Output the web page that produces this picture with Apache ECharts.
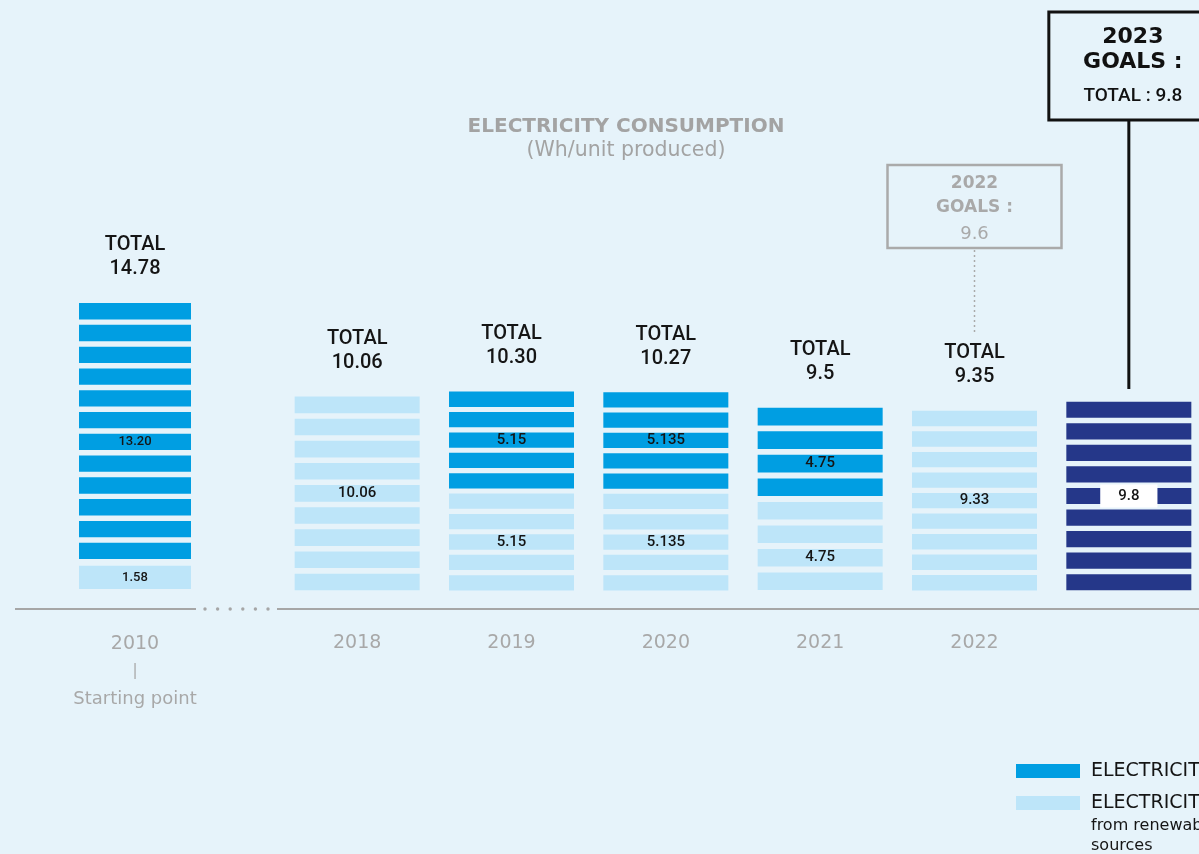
<!DOCTYPE html>
<html>
<head>
<meta charset="utf-8">
<script src="https://cdn.jsdelivr.net/npm/echarts@6/dist/echarts.min.js"></script>
<style>
  html, body { margin: 0; padding: 0; background: #e6f3fa; }
  #chart { width: 1199px; height: 854px; }
</style>
</head>
<body>
<div id="chart"></div>
<script>
// Electricity consumption, Wh per unit produced
const years = ['2010', '2018', '2019', '2020', '2021', '2022'];
// Values exactly as printed on the bars
const renewable    = ['1.58', '10.06', '5.15', '5.135', '4.75', '9.33'];
const nonRenewable = ['13.20', '0', '5.15', '5.135', '4.75', '0.02'];
const totals       = ['14.78', '10.06', '10.30', '10.27', '9.5', '9.35'];
const goalYear = '2023';
const goalTotal = '9.8';
const goal2022 = '9.6';

const COL_NON = '#009ee2';
const COL_REN = '#bde5f9';
const COL_GOAL = '#253789';
const INK = '#151515';
const GREY = '#a6a6a6';
const NUM_FONT = 'Roboto';
const HEAD_FONT = 'DejaVu Sans';

const STRIPE_UNIT = 1.08;   // value represented by one stripe
const STRIPE_FILL = 0.75;   // share of each slot that is painted

const ren = renewable.map(Number);
const non = nonRenewable.map(Number);

// Striped segment from value lo to value hi, its value written on the middle stripe
function stripedSegment(color, barWidth, texts, fontSize, boxed) {
  return function (params, api) {
    const cat = api.value(0), lo = api.value(1), hi = api.value(2);
    const n = Math.round((hi - lo) / STRIPE_UNIT);
    if (n < 1) return { type: 'group', children: [] };
    const pBot = api.coord([cat, lo]);
    const pTop = api.coord([cat, hi]);
    const pitch = (pBot[1] - pTop[1]) / n;
    const sh = pitch * STRIPE_FILL;
    const x = pBot[0] - barWidth / 2;
    const children = [];
    for (let i = 0; i < n; i++) {
      children.push({
        type: 'rect',
        shape: { x: x, y: pTop[1] + i * pitch + (pitch - sh) / 2, width: barWidth, height: sh },
        style: { fill: color }
      });
    }
    const txt = texts[params.dataIndex];
    if (txt) {
      const mid = Math.floor(n / 2);
      const style = {
        text: txt, x: pBot[0], y: pTop[1] + (mid + 0.5) * pitch,
        align: 'center', verticalAlign: 'middle',
        fontFamily: NUM_FONT, fontWeight: 500, fontSize: fontSize, fill: INK
      };
      if (boxed) { style.backgroundColor = '#ffffff'; style.padding = [4, 18]; }
      children.push({ type: 'text', style: style });
    }
    return { type: 'group', children: children };
  };
}

// "TOTAL" label sitting above each bar
function totalLabel(texts) {
  return function (params, api) {
    const p = api.coord([api.value(0), api.value(1)]);
    return {
      type: 'text',
      style: {
        text: 'TOTAL\n' + texts[params.dataIndex], x: p[0], y: p[1] - 19,
        align: 'center', verticalAlign: 'bottom', lineHeight: 24,
        fontFamily: NUM_FONT, fontWeight: 500, fontSize: 20, fill: INK
      }
    };
  };
}

// 2022 goal callout with a dotted leader down to the total label
function goal2022Callout(params, api) {
  const p = api.coord([api.value(0), api.value(1)]);
  const cx = p[0];
  return {
    type: 'group',
    children: [
      { type: 'rect', shape: { x: cx - 87, y: 165, width: 174, height: 83 },
        style: { fill: 'none', stroke: '#aaaaaa', lineWidth: 2.5 } },
      { type: 'text', style: { text: '2022\nGOALS :', x: cx, y: 172, align: 'center', verticalAlign: 'top',
        lineHeight: 24, fontFamily: HEAD_FONT, fontWeight: 'bold', fontSize: 17, fill: '#a9a9a9' } },
      { type: 'text', style: { text: goal2022, x: cx, y: 234, align: 'center', verticalAlign: 'middle',
        fontFamily: HEAD_FONT, fontSize: 18, fill: '#a9a9a9' } },
      { type: 'line', shape: { x1: cx, y1: 250, x2: cx, y2: p[1] - 19 - 48 - 6 },
        style: { stroke: '#aaaaaa', lineWidth: 1.5, lineDash: [2, 3] } }
    ]
  };
}

// 2023 goal callout box with a solid leader down to the bar
function goal2023Callout(params, api) {
  const p = api.coord([api.value(0), api.value(2)]);
  const cx = p[0];
  return {
    type: 'group',
    children: [
      { type: 'rect', shape: { x: cx - 80, y: 12, width: 170, height: 108 },
        style: { fill: 'none', stroke: '#111111', lineWidth: 3 } },
      { type: 'text', style: { text: goalYear + '\nGOALS :', x: cx + 4, y: 25, align: 'center', verticalAlign: 'top',
        lineHeight: 25, fontFamily: HEAD_FONT, fontWeight: 900, fontSize: 22, fill: '#111111' } },
      { type: 'text', style: { text: 'TOTAL : ' + goalTotal, x: cx + 4, y: 96, align: 'center', verticalAlign: 'middle',
        fontFamily: NUM_FONT, fontWeight: 500, fontSize: 19, fill: '#111111' } },
      { type: 'line', shape: { x1: cx, y1: 120, x2: cx, y2: p[1] - 10 },
        style: { stroke: '#111111', lineWidth: 3 } }
    ]
  };
}

// 2010 sits on its own axis, the recent years on a second one
const recentCats = years.slice(1).concat([goalYear]);
const recentRen = ren.slice(1), recentNon = non.slice(1);

const chart = echarts.init(document.getElementById('chart'));
chart.setOption({
  animation: false,
  backgroundColor: '#e6f3fa',
  title: {
    text: 'ELECTRICITY CONSUMPTION',
    subtext: '(Wh/unit produced)',
    left: 621, top: 112, textAlign: 'center', itemGap: 3,
    textStyle: { fontFamily: HEAD_FONT, fontWeight: 'bold', fontSize: 20, color: '#a3a3a3' },
    subtextStyle: { fontFamily: HEAD_FONT, fontSize: 20.5, color: '#a3a3a3' }
  },
  grid: [
    { left: 15, width: 240, top: 197, height: 396, outerBoundsMode: 'none' },
    { left: 280, width: 926, top: 197, height: 396, outerBoundsMode: 'none' }
  ],
  xAxis: [
    {
      type: 'category', gridIndex: 0, data: [years[0]], offset: 16,
      axisLine: { show: false }, axisTick: { show: false },
      axisLabel: {
        margin: 25,
        formatter: function (v) { return '{y|' + v + '}\n{t||}\n{s|Starting point}'; },
        rich: {
          y: { fontFamily: HEAD_FONT, fontSize: 19, color: '#a8a8a8', lineHeight: 20 },
          t: { fontFamily: HEAD_FONT, fontSize: 15, color: '#a8a8a8', lineHeight: 34 },
          s: { fontFamily: HEAD_FONT, fontSize: 18, color: '#a8a8a8', lineHeight: 22 }
        }
      }
    },
    {
      type: 'category', gridIndex: 1, data: recentCats, offset: 16,
      axisLine: { show: false }, axisTick: { show: false },
      axisLabel: {
        margin: 25, fontFamily: HEAD_FONT, fontSize: 19, color: '#a8a8a8',
        formatter: function (v) { return v === goalYear ? '' : v; }
      }
    }
  ],
  yAxis: [
    { type: 'value', gridIndex: 0, min: 0, max: 20, show: false },
    { type: 'value', gridIndex: 1, min: 0, max: 20, show: false }
  ],
  series: [
    {
      type: 'custom', name: 'ELECTRICITY from renewable sources', xAxisIndex: 0, yAxisIndex: 0,
      encode: { x: 0, y: [1, 2] }, itemStyle: { color: COL_REN },
      renderItem: stripedSegment(COL_REN, 112, [renewable[0]], 13),
      data: [[0, 0, ren[0]]]
    },
    {
      type: 'custom', name: 'ELECTRICITY', xAxisIndex: 0, yAxisIndex: 0,
      encode: { x: 0, y: [1, 2] }, itemStyle: { color: COL_NON },
      renderItem: stripedSegment(COL_NON, 112, [nonRenewable[0]], 13),
      data: [[0, ren[0], ren[0] + non[0]]]
    },
    {
      type: 'custom', xAxisIndex: 0, yAxisIndex: 0, encode: { x: 0, y: 1 },
      renderItem: totalLabel([totals[0]]),
      data: [[0, ren[0] + non[0]]]
    },
    {
      type: 'custom', name: 'ELECTRICITY from renewable sources', xAxisIndex: 1, yAxisIndex: 1,
      encode: { x: 0, y: [1, 2] }, itemStyle: { color: COL_REN },
      renderItem: stripedSegment(COL_REN, 125, renewable.slice(1), 15),
      data: recentRen.map(function (v, i) { return [i, 0, v]; })
    },
    {
      type: 'custom', name: 'ELECTRICITY', xAxisIndex: 1, yAxisIndex: 1,
      encode: { x: 0, y: [1, 2] }, itemStyle: { color: COL_NON },
      renderItem: stripedSegment(COL_NON, 125, nonRenewable.slice(1), 15),
      data: recentNon.map(function (v, i) { return [i, recentRen[i], recentRen[i] + v]; })
    },
    {
      type: 'custom', xAxisIndex: 1, yAxisIndex: 1, encode: { x: 0, y: 1 },
      renderItem: totalLabel(totals.slice(1)),
      data: recentNon.map(function (v, i) { return [i, recentRen[i] + v]; })
    },
    {
      type: 'custom', xAxisIndex: 1, yAxisIndex: 1, encode: { x: 0, y: 1 },
      renderItem: goal2022Callout,
      data: [[4, ren[5] + non[5]]]
    },
    {
      type: 'custom', name: goalYear + ' goal', xAxisIndex: 1, yAxisIndex: 1,
      encode: { x: 0, y: [1, 2] }, itemStyle: { color: COL_GOAL },
      renderItem: stripedSegment(COL_GOAL, 125, [goalTotal], 15, true),
      data: [[5, 0, Number(goalTotal)]]
    },
    {
      type: 'custom', xAxisIndex: 1, yAxisIndex: 1, encode: { x: 0, y: [1, 2] },
      renderItem: goal2023Callout,
      data: [[5, 0, Number(goalTotal)]]
    }
  ],
  graphic: [
    // baseline, broken by a dotted gap between 2010 and 2018
    { type: 'line', shape: { x1: 15, y1: 609, x2: 196, y2: 609 }, style: { stroke: GREY, lineWidth: 2 } },
    { type: 'group', children: [0, 1, 2, 3, 4, 5].map(function (i) {
        return { type: 'circle', shape: { cx: 205 + i * 12.6, cy: 609, r: 1.7 }, style: { fill: GREY } };
      }) },
    { type: 'line', shape: { x1: 277, y1: 609, x2: 1199, y2: 609 }, style: { stroke: GREY, lineWidth: 2 } },
    // legend
    { type: 'rect', shape: { x: 1016, y: 764, width: 64, height: 14 }, style: { fill: COL_NON } },
    { type: 'text', style: { text: 'ELECTRICITY', x: 1091, y: 771, verticalAlign: 'middle',
      fontFamily: HEAD_FONT, fontSize: 19, fill: INK } },
    { type: 'rect', shape: { x: 1016, y: 796, width: 64, height: 14 }, style: { fill: COL_REN } },
    { type: 'text', style: { text: 'ELECTRICITY', x: 1091, y: 803, verticalAlign: 'middle',
      fontFamily: HEAD_FONT, fontSize: 19, fill: INK } },
    { type: 'text', style: { text: 'from renewable\nsources', x: 1091, y: 816, verticalAlign: 'top',
      lineHeight: 20, fontFamily: HEAD_FONT, fontSize: 16, fill: INK } }
  ]
});
</script>
</body>
</html>
